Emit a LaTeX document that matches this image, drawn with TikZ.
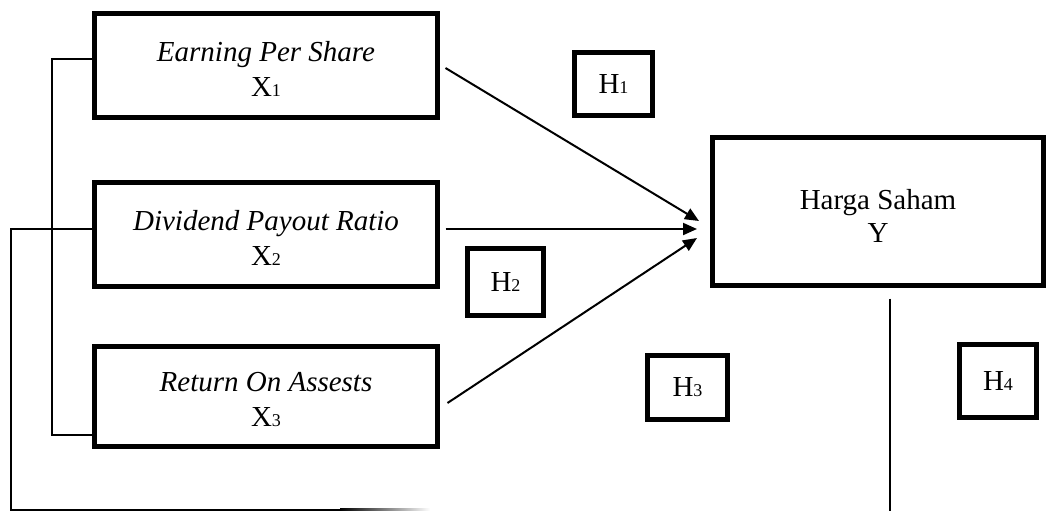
\documentclass[tikz,border=0pt]{standalone}
\usepackage{fontspec}
\setmainfont{Liberation Serif}
\usetikzlibrary{arrows.meta}
\newcommand{\smallidx}[1]{{\fontsize{18}{18}\selectfont #1}}
\tikzset{
  varbox/.style={draw, line width=5pt, minimum width=343pt, inner sep=0pt, align=center,
    font=\fontsize{29}{35}\selectfont},
  ybox/.style={draw, line width=5pt, inner sep=0pt, align=center,
    font=\fontsize{29}{33}\selectfont},
  hbox/.style={draw, line width=5pt, inner sep=0pt, font=\fontsize{29}{35}\selectfont},
  link/.style={line width=2pt},
  arr/.style={line width=2pt, -{Triangle[length=14pt,width=12pt]}},
}
\begin{document}
\begin{tikzpicture}[x=1pt,y=-1pt]
\useasboundingbox (0,0) rectangle (1048,511);
% variable boxes
\node[varbox, minimum height=104pt] (X1) at (266,65.5) {\rule{0pt}{26pt}\textit{Earning Per Share}\\X\smallidx{1}};
\node[varbox, minimum height=104pt] (X2) at (266,234.5) {\rule{0pt}{26pt}\textit{Dividend Payout Ratio}\\X\smallidx{2}};
\node[varbox, minimum height=100pt] (X3) at (266,396.5) {\rule{0pt}{26pt}\textit{Return On Assests}\\X\smallidx{3}};
\node[ybox, minimum width=331pt, minimum height=148pt] (Y) at (878,211.5) {\rule{0pt}{29pt}Harga Saham\\Y};
% hypothesis boxes
\node[hbox, minimum width=78pt, minimum height=63pt] (H1) at (613.5,84) {H\smallidx{1}};
\node[hbox, minimum width=76pt, minimum height=67pt] (H2) at (505.5,282) {H\smallidx{2}};
\node[hbox, minimum width=80pt, minimum height=64pt] (H3) at (687.5,387.5) {H\smallidx{3}};
\node[hbox, minimum width=77pt, minimum height=73pt] (H4) at (998,381) {H\smallidx{4}};
% arrow tips
\coordinate (t1) at (699,221);
\coordinate (t2) at (697,229);
\coordinate (t3) at (697,238);
\draw[arr] ([xshift=5.5pt,yshift=-2.5pt]X1.east) -- (t1);
\draw[arr] ([xshift=5.5pt,yshift=5.5pt]X2.east) -- (t2);
\draw[arr] ([xshift=7.5pt,yshift=-6.5pt]X3.east) -- (t3);
% left brackets
\coordinate (b1) at (52,59);
\coordinate (b2) at (52,435);
\draw[link] ([yshift=6.5pt]X1.west) -- (b1) -- (b2) -- (X3.west |- b2);
\coordinate (c1) at (11,229);
\coordinate (c2) at (11,509.5);
\coordinate (c3) at (340,509.5);
\draw[link] ([yshift=5.5pt]X2.west) -- (c1) -- (c2) -- (c3);
\shade[left color=black, right color=white] (340,508.5) rectangle (430,510.5);
% vertical line below Y
\coordinate (v) at (890,511);
\draw[link] ([xshift=12pt,yshift=-10.5pt]Y.south) -- (v);
\end{tikzpicture}
\end{document}
